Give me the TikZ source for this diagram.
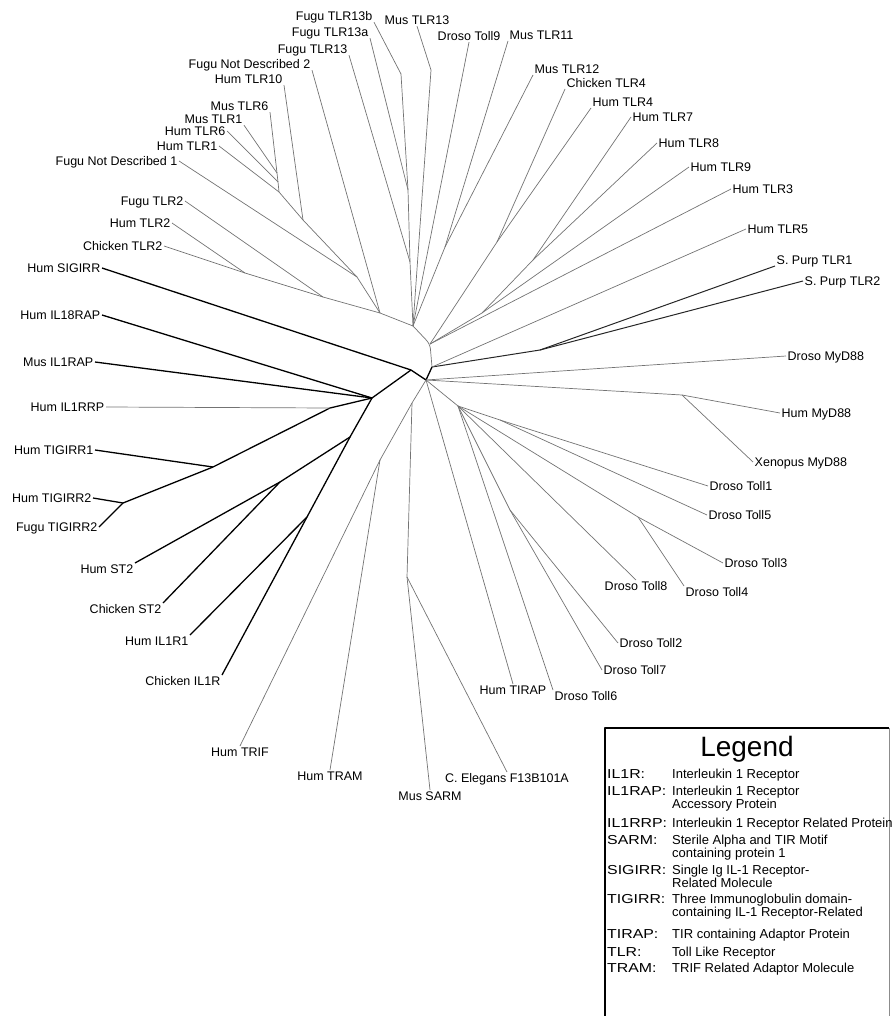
\documentclass[tikz,border=0pt]{standalone}
\usepackage{fontspec}
\setmainfont{Liberation Sans}
\newfontfamily\abbrfont[FakeStretch=1.22]{Liberation Sans}
\usepackage{tikz}

\begin{document}
\begin{tikzpicture}[
        x=1pt, y=-1pt, line join=round,
        leaf/.style={font=\fontsize{12.5}{14}\selectfont, inner sep=1.5pt, text height=9pt, text depth=0pt},
        branch/.style={draw=black!55, line width=0.7pt},
        darkbranch/.style={draw=black!85, line width=1pt},
        ilbranch/.style={draw=black, line width=1.3pt},
        legtext/.style={font=\fontsize{13}{15}\selectfont, inner sep=0pt, text height=9.3pt, text depth=0pt, anchor=west},
        legabbr/.style={legtext, font=\abbrfont\fontsize{13}{15}\selectfont}
    ]
        \useasboundingbox (0,0) rectangle (893,1016);

        % Hub and inner branch points
        \coordinate (hubA) at (426,380);
        \coordinate (hubB) at (432,367);
        \coordinate (hubC) at (430,344);
        \coordinate (hubD) at (413,326);
        \coordinate (jsig) at (411,370);
        \coordinate (jil) at (372,398);
        \coordinate (jrrp) at (330,408);
        \coordinate (jtig1) at (213,467);
        \coordinate (jtig2) at (123,503);
        \coordinate (jst) at (350,437);
        \coordinate (jst2) at (280,482);
        \coordinate (jil1r) at (307,517);
        \coordinate (j16a) at (277,173);
        \coordinate (j16b) at (278,182);
        \coordinate (j16c) at (279,192);
        \coordinate (j10) at (303,220);
        \coordinate (jfnd1) at (357,277);
        \coordinate (j2a) at (245,273);
        \coordinate (j2) at (323,297);
        \coordinate (jtlr) at (380,313);
        \coordinate (j13ab) at (408,190);
        \coordinate (b13b) at (401,74);
        \coordinate (j13) at (410,262);
        \coordinate (bm13) at (431,70);
        \coordinate (j1112) at (445,247);
        \coordinate (jtlr4) at (497,242);
        \coordinate (j78) at (533,260);
        \coordinate (j789) at (482,313);
        \coordinate (jsp) at (540,350);
        \coordinate (jmyd) at (682,395);
        \coordinate (jtoll) at (458,406);
        \coordinate (j15) at (500,420);
        \coordinate (j34) at (638,517);
        \coordinate (j27) at (510,510);
        \coordinate (jtr) at (412,403);
        \coordinate (jtrif) at (380,460);
        \coordinate (jsarm) at (407,577);

        % TLR leaves, upper left
        \node[leaf, anchor=east] (f13b) at (374,16) {Fugu TLR13b};
        \node[leaf, anchor=east] (f13a) at (370,32) {Fugu TLR13a};
        \node[leaf, anchor=east] (f13) at (349,49) {Fugu TLR13};
        \node[leaf, anchor=east] (fnd2) at (312,64) {Fugu Not Described 2};
        \node[leaf, anchor=east] (htlr10) at (284,79) {Hum TLR10};
        \node[leaf, anchor=east] (mtlr6) at (270,106) {Mus TLR6};
        \node[leaf, anchor=east] (mtlr1) at (244,119) {Mus TLR1};
        \node[leaf, anchor=east] (htlr6) at (227,131) {Hum TLR6};
        \node[leaf, anchor=east] (htlr1) at (219,146) {Hum TLR1};
        \node[leaf, anchor=east] (fnd1) at (179,161) {Fugu Not Described 1};
        \node[leaf, anchor=east] (ftlr2) at (185,201) {Fugu TLR2};
        \node[leaf, anchor=east] (htlr2) at (172,223) {Hum TLR2};
        \node[leaf, anchor=east] (ctlr2) at (164,246) {Chicken TLR2};
        \node[leaf, anchor=east] (hsig) at (102,268) {Hum SIGIRR};

        % TLR leaves, top and upper right
        \node[leaf] (mtlr13) at (417,20) {Mus TLR13};
        \node[leaf] (dtoll9) at (469,36) {Droso Toll9};
        \node[leaf, anchor=south west] (mtlr11) at (508,41) {Mus TLR11};
        \node[leaf, anchor=south west] (mtlr12) at (533,75) {Mus TLR12};
        \node[leaf, anchor=south west] (ctlr4) at (565,89) {Chicken TLR4};
        \node[leaf, anchor=south west] (htlr4) at (591,108) {Hum TLR4};
        \node[leaf, anchor=west] (htlr7) at (631,117) {Hum TLR7};
        \node[leaf, anchor=west] (htlr8) at (657,143) {Hum TLR8};
        \node[leaf, anchor=west] (htlr9) at (689,167) {Hum TLR9};
        \node[leaf, anchor=west] (htlr3) at (731,189) {Hum TLR3};
        \node[leaf, anchor=west] (htlr5) at (746,229) {Hum TLR5};
        \node[leaf, anchor=south west] (sptlr1) at (775,266) {S. Purp TLR1};
        \node[leaf, anchor=west] (sptlr2) at (803,281) {S. Purp TLR2};

        % MyD88 and Toll leaves
        \node[leaf, anchor=west] (dmyd) at (786,356) {Droso MyD88};
        \node[leaf, anchor=west] (hmyd) at (780,413) {Hum MyD88};
        \node[leaf, anchor=west] (xmyd) at (753,462) {Xenopus MyD88};
        \node[leaf, anchor=west] (dtoll1) at (708,486) {Droso Toll1};
        \node[leaf, anchor=west] (dtoll5) at (707,515) {Droso Toll5};
        \node[leaf, anchor=west] (dtoll3) at (723,563) {Droso Toll3};
        \node[leaf, anchor=north west] (dtoll4) at (684,586) {Droso Toll4};
        \node[leaf, anchor=north] (dtoll8) at (636,580) {Droso Toll8};
        \node[leaf, anchor=west] (dtoll2) at (618,643) {Droso Toll2};
        \node[leaf, anchor=west] (dtoll7) at (602,670) {Droso Toll7};
        \node[leaf, anchor=north west] (dtoll6) at (553,690) {Droso Toll6};
        \node[leaf, anchor=north] (htirap) at (513,684) {Hum TIRAP};

        % Adaptor leaves, bottom
        \node[leaf, anchor=north] (ctf13) at (507,772) {C. Elegans F13B101A};
        \node[leaf, anchor=north] (msarm) at (430,790) {Mus SARM};
        \node[leaf, anchor=north] (htram) at (330,770) {Hum TRAM};
        \node[leaf, anchor=north] (htrif) at (240,746) {Hum TRIF};

        % IL-1 receptor leaves
        \node[leaf, anchor=east] (hil18) at (102,315) {Hum IL18RAP};
        \node[leaf, anchor=east] (mil1rap) at (95,362) {Mus IL1RAP};
        \node[leaf, anchor=east] (hil1rrp) at (106,407) {Hum IL1RRP};
        \node[leaf, anchor=east] (htig1) at (95,450) {Hum TIGIRR1};
        \node[leaf, anchor=east] (htig2) at (93,498) {Hum TIGIRR2};
        \node[leaf, anchor=east] (ftig2) at (99,527) {Fugu TIGIRR2};
        \node[leaf, anchor=north east] (hst2) at (135,563) {Hum ST2};
        \node[leaf, anchor=north east] (cst2) at (163,603) {Chicken ST2};
        \node[leaf, anchor=north east] (hil1r1) at (190,635) {Hum IL1R1};
        \node[leaf, anchor=north east] (cil1r) at (222,675) {Chicken IL1R};

        % IL-1 receptor clade
        \draw[ilbranch] (hsig.east) -- (jsig) -- (hubA) -- (hubB);
        \draw[ilbranch] (jsig) -- (jil) -- (hil18.east);
        \draw[ilbranch] (jil) -- (mil1rap.east);
        \draw[ilbranch] (jil) -- (jrrp) -- (jtig1) -- (jtig2) -- (htig2.east);
        \draw[branch] (jrrp) -- (hil1rrp.east);
        \draw[ilbranch] (jtig1) -- (htig1.east);
        \draw[ilbranch] (jtig2) -- (ftig2.east);
        \draw[ilbranch] (jil) -- (jst) -- (jst2) -- (hst2.north east);
        \draw[ilbranch] (jst2) -- (cst2.north east);
        \draw[ilbranch] (jst) -- (jil1r) -- (hil1r1.north east);
        \draw[ilbranch] (jil1r) -- (cil1r.north east);

        % Toll, MyD88 and adaptors
        \draw[branch] (hubA) -- (jtoll) -- (j15) -- (dtoll1.west);
        \draw[branch] (j15) -- (dtoll5.west);
        \draw[branch] (jtoll) -- (j34) -- (dtoll3.west);
        \draw[branch] (j34) -- (dtoll4.north west);
        \draw[branch] (jtoll) -- (dtoll8.north);
        \draw[branch] (jtoll) -- (j27) -- (dtoll2.west);
        \draw[branch] (j27) -- (dtoll7.west);
        \draw[branch] (jtoll) -- (dtoll6.north west);
        \draw[branch] (hubA) -- (htirap.north);
        \draw[branch] (hubA) -- (jtr) -- (jtrif) -- (htrif.north);
        \draw[branch] (jtrif) -- (htram.north);
        \draw[branch] (jtr) -- (jsarm) -- (msarm.north);
        \draw[branch] (jsarm) -- (ctf13.north);
        \draw[branch] (hubA) -- (dmyd.west);
        \draw[branch] (hubA) -- (jmyd) -- (hmyd.west);
        \draw[branch] (jmyd) -- (xmyd.west);

        % TLR side
        \draw[branch, rounded corners=5pt] (hubB) -- (hubC) -- (hubD);
        \draw[darkbranch] (hubB) -- (jsp) -- (sptlr1.south west);
        \draw[darkbranch] (jsp) -- (sptlr2.west);
        \draw[branch] (hubB) -- (htlr5.west);
        \draw[branch] (hubC) -- (htlr3.west);
        \draw[branch] (hubC) -- (j789) -- (htlr9.west);
        \draw[branch] (j789) -- (j78) -- (htlr8.west);
        \draw[branch] (j78) -- (htlr7.west);
        \draw[branch] (hubC) -- (jtlr4) -- (htlr4.south west);
        \draw[branch] (jtlr4) -- (ctlr4.south west);
        \draw[branch] (hubD) -- (j1112) -- (mtlr11.south west);
        \draw[branch] (j1112) -- (mtlr12.south west);
        \draw[branch] (hubD) -- (dtoll9.south);
        \draw[branch] (hubD) -- (bm13) -- (mtlr13.south);
        \draw[branch] (hubD) -- (j13) -- (f13.south east);
        \draw[branch] (j13) -- (j13ab) -- (f13a.south east);
        \draw[branch] (j13ab) -- (b13b) -- (f13b.south east);
        \draw[branch] (hubD) -- (jtlr) -- (fnd2.south east);
        \draw[branch] (jtlr) -- (jfnd1) -- (fnd1.east);
        \draw[branch] (jfnd1) -- (j10) -- (htlr10.south east);
        \draw[branch] (j10) -- (j16c) -- (htlr1.east);
        \draw[branch] (j16c) -- (j16b) -- (htlr6.east);
        \draw[branch] (j16b) -- (j16a) -- (mtlr6.south east);
        \draw[branch] (j16a) -- (mtlr1.south east);

        \draw[branch] (jtlr) -- (j2) -- (ftlr2.east);
        \draw[branch] (j2) -- (j2a) -- (htlr2.east);
        \draw[branch] (j2a) -- (ctlr2.east);

        % Legend
        \node[anchor=north west, inner sep=0pt, minimum width=284pt, minimum height=305pt] (legframe) at (605,728) {};
        \draw[line width=1.3pt] (legframe.south west) -- (legframe.north west) -- (legframe.north east);
        \draw[black!45, line width=0.6pt] (legframe.north east) -- (legframe.south east);
        \node[font=\fontsize{28}{30}\selectfont, inner sep=0pt, text height=20pt, text depth=0pt] (legtitle) at (747,746) {Legend};

        \node[legabbr] (a-il1r) at (607,774) {IL1R:};
        \node[legtext] (d-il1r) at (672,774) {Interleukin 1 Receptor};
        \node[legabbr] (a-il1rap) at (607,791) {IL1RAP:};
        \node[legtext] (d-il1rap) at (672,791) {Interleukin 1 Receptor};
        \node[legtext] (d-il1rap2) at (672,804) {Accessory Protein};
        \node[legabbr] (a-il1rrp) at (607,823) {IL1RRP:};
        \node[legtext] (d-il1rrp) at (672,823) {Interleukin 1 Receptor Related Protein};
        \node[legabbr] (a-sarm) at (607,840) {SARM:};
        \node[legtext] (d-sarm) at (672,840) {Sterile Alpha and TIR Motif};
        \node[legtext] (d-sarm2) at (672,853) {containing protein 1};
        \node[legabbr] (a-sigirr) at (607,870) {SIGIRR:};
        \node[legtext] (d-sigirr) at (672,870) {Single Ig IL-1 Receptor-};
        \node[legtext] (d-sigirr2) at (672,883) {Related Molecule};
        \node[legabbr] (a-tigirr) at (607,899) {TIGIRR:};
        \node[legtext] (d-tigirr) at (672,899) {Three Immunoglobulin domain-};
        \node[legtext] (d-tigirr2) at (672,912) {containing IL-1 Receptor-Related};
        \node[legabbr] (a-tirap) at (607,934) {TIRAP:};
        \node[legtext] (d-tirap) at (672,934) {TIR containing Adaptor Protein};
        \node[legabbr] (a-tlr) at (607,952) {TLR:};
        \node[legtext] (d-tlr) at (672,952) {Toll Like Receptor};
        \node[legabbr] (a-tram) at (607,968) {TRAM:};
        \node[legtext] (d-tram) at (672,968) {TRIF Related Adaptor Molecule};
    \end{tikzpicture}
\end{document}
